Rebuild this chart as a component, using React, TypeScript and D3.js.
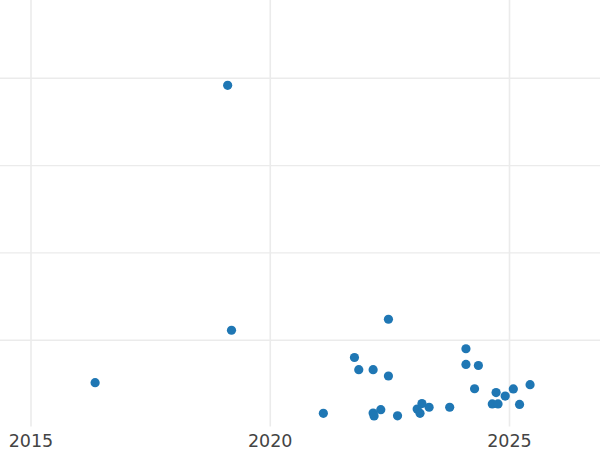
import React from "react";
import * as d3 from "d3";

// Decimal years and values
const years: number[] = [
  2016.34, 2019.11, 2019.19, 2021.11, 2021.76, 2021.85, 2022.15, 2022.15, 2022.17,
  2022.31, 2022.47, 2022.47, 2022.66, 2023.07, 2023.17, 2023.13, 2023.32, 2023.75,
  2024.09, 2024.09, 2024.35, 2024.27, 2024.72, 2024.64, 2024.76, 2024.91, 2025.08,
  2025.21, 2025.43,
];
const values: number[] = [
  2.57, 19.6, 5.57, 0.81, 4.01, 3.31, 3.31, 0.83, 0.66,
  1.02, 6.2, 2.95, 0.67, 1.06, 1.37, 0.81, 1.16, 1.16,
  4.51, 3.61, 3.55, 2.22, 2.0, 1.35, 1.35, 1.8, 2.21,
  1.32, 2.45,
];
const xTicks: number[] = [2015, 2020, 2025];
const yTicks: number[] = [0, 5, 10, 15, 20, 25];

const W = 600;
const H = 450;
const plotBottom = 427.5;

export default function App() {
  const x = d3.scaleLinear().domain([2015, 2025]).range([31, 509.5]);
  const y = d3.scaleLinear().domain([0, 5]).range([plotBottom, plotBottom - 87.3]);

  return (
    <svg
      width={W}
      height={H}
      style={{ position: "fixed", left: 0, top: 0, display: "block", background: "#fff" }}
    >
      <g>
        {yTicks
          .filter((t) => t > 0 && y(t) > 0)
          .map((t) => (
            <line key={"gy" + t} x1={0} x2={W} y1={y(t)} y2={y(t)} stroke="#ebebeb" strokeWidth={1.4} />
          ))}
        {xTicks.map((t) => (
          <line key={"gx" + t} x1={x(t)} x2={x(t)} y1={0} y2={plotBottom - 1} stroke="#ebebeb" strokeWidth={1.6} />
        ))}
      </g>
      <g>
        {years.map((yr, i) => (
          <circle key={i} cx={x(yr)} cy={y(values[i])} r={4.6} fill="#1f77b4" />
        ))}
      </g>
      <g>
        {xTicks.map((t) => (
          <text
            key={"tx" + t}
            x={x(t)}
            y={447}
            textAnchor="middle"
            fontFamily="DejaVu Sans"
            fontSize={17.5}
            fill="#444"
          >
            {d3.format("d")(t)}
          </text>
        ))}
      </g>
    </svg>
  );
}
